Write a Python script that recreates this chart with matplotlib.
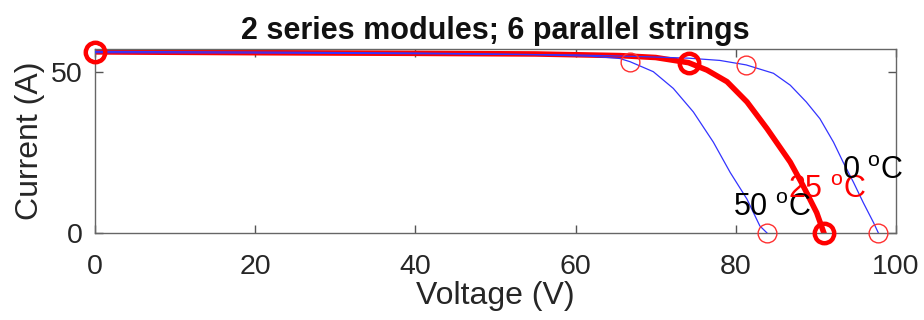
import matplotlib
matplotlib.use("Agg")
import matplotlib.pyplot as plt

plt.rcParams['font.family'] = ['Liberation Sans', 'DejaVu Sans']
plt.rcParams['mathtext.fontset'] = 'custom'
plt.rcParams['mathtext.rm'] = 'Liberation Sans'

# I-V curves (voltage in V, current in A)
v_0c = [0, 20, 40, 60, 68, 74.1, 78.0, 81.3, 84.7, 86.8, 88.8, 90.5, 92.2, 93.4,
        94.7, 95.9, 97.2, 97.8]
i_0c = [56.0, 55.9, 55.7, 55.3, 54.8, 54.3, 53.6, 52.2, 49.6, 45.9, 40.7, 35.5,
        28.2, 22.0, 15.7, 9.5, 3.2, 0]

v_25c = [0, 20, 40, 55, 65.5, 70, 74.1, 76.4, 78.9, 81.4, 83.9, 86.8, 88.4, 90.1, 91.0]
i_25c = [56.25, 56.0, 55.8, 55.6, 55.1, 54.5, 52.9, 50.6, 47.0, 40.7, 32.4, 22.0,
         14.7, 6.3, 0]

v_50c = [0, 20, 40, 55, 62, 65.5, 66.8, 69.7, 72.2, 74.7, 77.2, 79.3, 81.4, 83.0, 83.9]
i_50c = [56.4, 56.2, 55.9, 55.4, 54.9, 54.2, 53.2, 50.1, 44.9, 37.6, 28.2, 18.8,
         10.5, 2.2, 0]

# short circuit, max power and open circuit points
key_v_0c = [0, 81.3, 97.8]
key_i_0c = [56.0, 52.2, 0]
key_v_25c = [0, 74.1, 91.0]
key_i_25c = [56.25, 52.9, 0]
key_v_50c = [0, 66.8, 83.9]
key_i_50c = [56.4, 53.2, 0]

fig = plt.figure(figsize=(9.24, 3.2), dpi=100)
ax = fig.add_axes([95 / 924, 87 / 320, 801 / 924, 184.5 / 320])

ax.plot(v_25c, i_25c, color='#ff0000', lw=4, zorder=2)
ax.plot(key_v_25c, key_i_25c, 'o', color='#ff0000', mfc='none', ms=14, mew=3.2,
        zorder=4, clip_on=False)

for v, i, kv, ki in [(v_0c, i_0c, key_v_0c, key_i_0c),
                     (v_50c, i_50c, key_v_50c, key_i_50c)]:
    ax.plot(v, i, color='#3333ff', lw=0.9, zorder=3)
    ax.plot(kv, ki, 'o', color='#ff3030', mfc='none', ms=13.5, mew=1.0,
            zorder=3, clip_on=False)

ax.text(79.65, 5.3, r'50 $^{\mathrm{o}}$C', fontsize=22, color='black', zorder=5)
ax.text(86.5, 11.0, r'25 $^{\mathrm{o}}$C', fontsize=22, color='#ff0000', zorder=5)
ax.text(93.3, 16.9, r'0 $^{\mathrm{o}}$C', fontsize=22, color='black', zorder=5)

ax.set_xlim(0, 100)
ax.set_ylim(0, 57.3)
ax.set_xticks([0, 20, 40, 60, 80, 100])
ax.set_yticks([0, 50])
ax.tick_params(direction='in', length=6, width=1, color='#555555',
               labelcolor='#262626', labelsize=20.5, top=True, right=True)
ax.tick_params(axis='x', pad=15)
ax.tick_params(axis='y', pad=9)
for s in ax.spines.values():
    s.set_color('#666666')
    s.set_linewidth(1)

ax.set_xlabel('Voltage (V)', fontsize=23, color='#262626', labelpad=1)
ax.set_ylabel('Current (A)', fontsize=23, color='#262626', labelpad=4)
ax.set_title('2 series modules; 6 parallel strings', fontsize=22,
             fontweight='bold', color='#111111', pad=7)

fig.savefig('out.png', dpi=100)
